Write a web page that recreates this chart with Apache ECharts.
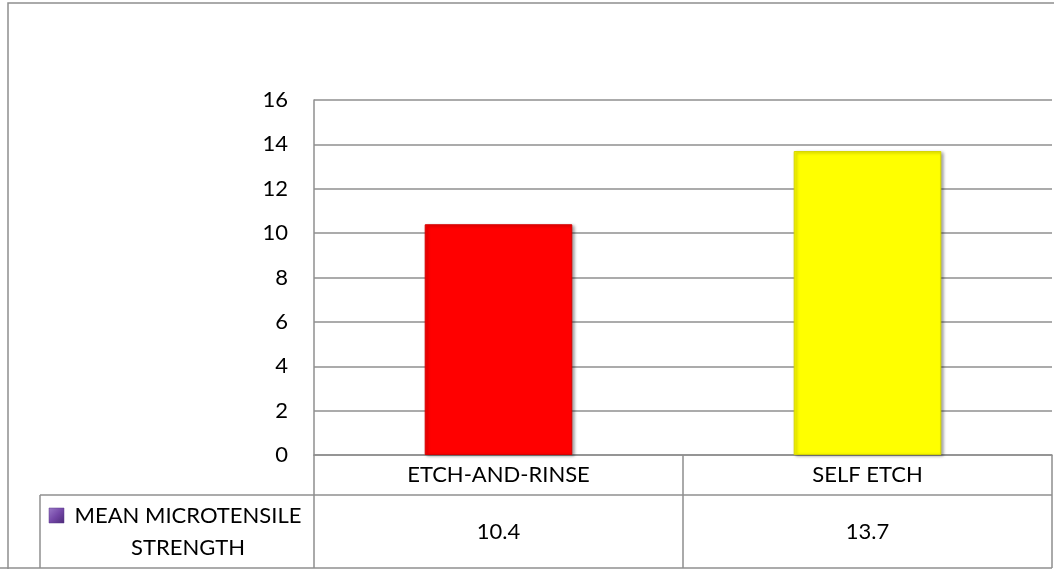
<!DOCTYPE html>
<html>
<head>
<meta charset="utf-8">
<script src="https://cdn.jsdelivr.net/npm/echarts@6/dist/echarts.min.js"></script>
<style>
  html, body { margin: 0; padding: 0; background: #fff; }
  #chart { width: 1054px; height: 569px; }
</style>
</head>
<body>
<div id="chart"></div>
<script>
// Mean microtensile bond strength by adhesive approach
const categories = ['ETCH-AND-RINSE', 'SELF ETCH'];
const strengthValues = [10.4, 13.7];
const barColors = ['#ff0000', '#ffff00'];
const seriesName = 'MEAN MICROTENSILE STRENGTH';
const seriesNameLines = ['MEAN MICROTENSILE', 'STRENGTH'];
const yTicks = { min: 0, max: 16, step: 2 };

const FONT = 'Lato, "Open Sans", sans-serif';
const FS = 22;
const LINE = '#8f8f8f';

const chart = echarts.init(document.getElementById('chart'), null, { renderer: 'canvas' });

chart.setOption({
  animation: false,
  backgroundColor: '#ffffff',
  grid: { left: 314, right: 2, top: 100, bottom: 114 },
  xAxis: {
    type: 'category',
    data: categories,
    axisLine: { show: true, lineStyle: { color: LINE, width: 1.5 } },
    axisTick: { show: true, length: 113, lineStyle: { color: LINE, width: 1.5 } },
    axisLabel: { color: '#000', fontFamily: FONT, fontSize: FS, margin: 9 }
  },
  yAxis: {
    type: 'value',
    min: yTicks.min,
    max: yTicks.max,
    interval: yTicks.step,
    axisLine: { show: true, lineStyle: { color: LINE, width: 1.5 } },
    axisTick: { show: false },
    axisLabel: { color: '#000', fontFamily: FONT, fontSize: FS, margin: 26 },
    splitLine: { show: true, lineStyle: { color: LINE, width: 1.5 } }
  },
  series: [{
    name: seriesName,
    type: 'bar',
    barWidth: '40%',
    data: strengthValues.map((v, i) => ({
      value: v,
      itemStyle: {
        color: barColors[i],
        borderColor: echarts.color.modifyHSL(barColors[i], null, null, 0.42),
        borderWidth: 1,
        shadowColor: 'rgba(0,0,0,0.35)',
        shadowBlur: 3,
        shadowOffsetX: 2,
        shadowOffsetY: 1
      }
    }))
  }]
});

// Data table under the plot: value row, header cell with key, and frame
function drawTable() {
  const plotRight = 1052;
  const rowSplit = 495;
  const tableBottom = 568;
  const els = [];

  // outer chart frame
  els.push({ type: 'rect', shape: { x: 8, y: 3, width: 1100, height: 600 },
    style: { fill: null, stroke: LINE, lineWidth: 1.5 }, silent: true });

  // row divider and bottom edge
  els.push({ type: 'line', shape: { x1: 40, y1: rowSplit, x2: plotRight, y2: rowSplit },
    style: { stroke: LINE, lineWidth: 1.5 } });
  els.push({ type: 'line', shape: { x1: 0, y1: tableBottom, x2: plotRight, y2: tableBottom },
    style: { stroke: LINE, lineWidth: 1.5 } });
  // left edge of the series-name cell
  els.push({ type: 'line', shape: { x1: 40, y1: rowSplit, x2: 40, y2: tableBottom },
    style: { stroke: LINE, lineWidth: 1.5 } });

  // value cells
  categories.forEach((c, i) => {
    const x = chart.convertToPixel({ xAxisIndex: 0 }, c);
    els.push({ type: 'text', x: x, y: 532,
      style: { text: String(strengthValues[i]), fill: '#000', font: FS + 'px ' + FONT,
               align: 'center', verticalAlign: 'middle' } });
  });

  // series-name cell: legend key + wrapped name
  els.push({ type: 'rect', shape: { x: 49, y: 508, width: 15, height: 15 },
    style: { fill: new echarts.graphic.LinearGradient(0, 0, 1, 1, [
      { offset: 0, color: '#9b7ac8' }, { offset: 0.5, color: '#7548a8' }, { offset: 1, color: '#4c2a78' }
    ]), stroke: '#5a3a88', lineWidth: 0.5 } });
  els.push({ type: 'text', x: 188, y: 516,
    style: { text: seriesNameLines[0], fill: '#000', font: FS + 'px ' + FONT,
             align: 'center', verticalAlign: 'middle' } });
  els.push({ type: 'text', x: 188, y: 548,
    style: { text: seriesNameLines[1], fill: '#000', font: FS + 'px ' + FONT,
             align: 'center', verticalAlign: 'middle' } });

  chart.setOption({ graphic: { elements: els } });
}
drawTable();
</script>
</body>
</html>
